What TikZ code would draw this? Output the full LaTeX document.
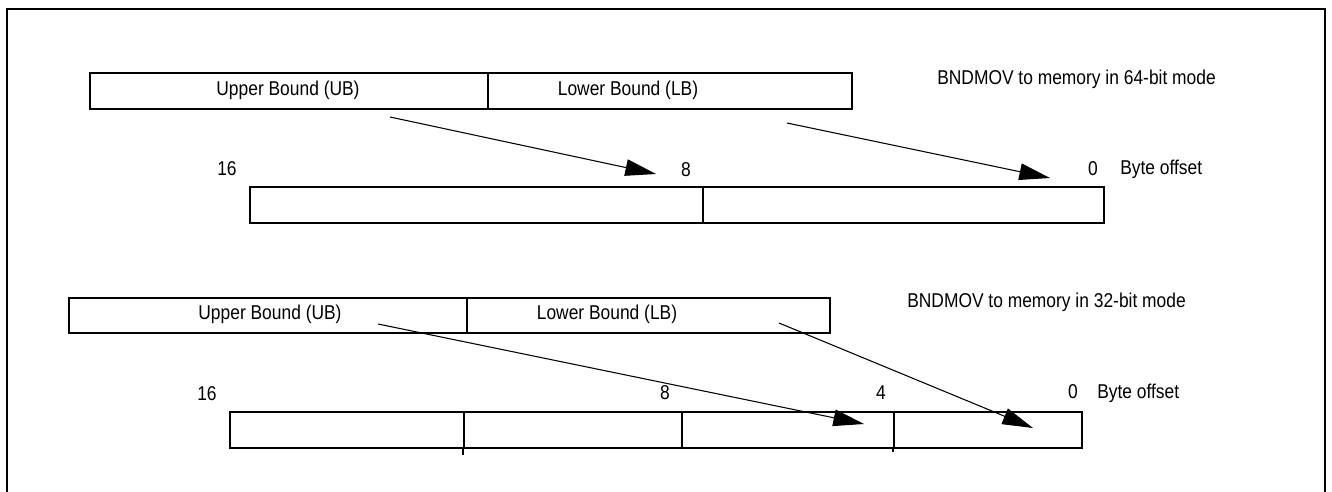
\documentclass[tikz,border=0pt]{standalone}
\usepackage{fontspec}
\setmainfont{Liberation Sans}
\usetikzlibrary{arrows.meta}
\newcommand{\lbltext}[1]{\scalebox{0.87}[1]{\fontsize{15}{17}\selectfont #1}}
\begin{document}
\begin{tikzpicture}[x=0.75pt,y=-0.75pt,
 cell/.style={draw, line width=1.8pt, minimum height=27pt, inner sep=0pt, anchor=north west},
 txt/.style={inner sep=0pt},
 mv/.style={line width=0.8pt, -{Triangle[length=23pt,width=12.5pt]}},
 frame/.style={line width=2pt}]
\clip (0,0) rectangle (1332,492);
\fill[white] (0,0) rectangle (1332,492);
\draw[frame] (7,500) -- (7,9) -- (1325,9) -- (1325,500);
% ---- 64-bit mode ----
\node[cell, minimum width=298.5pt] (ub1) at (89,72) {};
\node[cell, minimum width=273pt] (lb1) at (487,72) {};
\node[txt] (tub1) at (288,90) {\lbltext{Upper Bound (UB)}};
\node[txt] (tlb1) at (628,90) {\lbltext{Lower Bound (LB)}};
\node[txt, anchor=west] (title1) at (937,79) {\lbltext{BNDMOV to memory in 64-bit mode}};
\node[cell, minimum width=339.75pt] (ma1) at (249,186) {};
\node[cell, minimum width=300.75pt] (mb1) at (702,186) {};
\node[txt] (n16a) at (227,169) {\lbltext{16}};
\node[txt] (n8a) at (686,170) {\lbltext{8}};
\node[txt] (n0a) at (1093,169) {\lbltext{0}};
\node[txt, anchor=west] (bo1) at (1120,169) {\lbltext{Byte offset}};
\coordinate (s1) at (390,117); \coordinate (e1) at (656,174);
\coordinate (s2) at (787,123); \coordinate (e2) at (1050,178);
\draw[mv] (s1) -- (e1);
\draw[mv] (s2) -- (e2);
% ---- 32-bit mode ----
\node[cell, minimum width=298.5pt, minimum height=26.25pt] (ub2) at (68,297) {};
\node[cell, minimum width=272.25pt, minimum height=26.25pt] (lb2) at (466,297) {};
\node[txt] (tub2) at (270,314.5) {\lbltext{Upper Bound (UB)}};
\node[txt] (tlb2) at (607,314.5) {\lbltext{Lower Bound (LB)}};
\node[txt, anchor=west] (title2) at (907,302) {\lbltext{BNDMOV to memory in 32-bit mode}};
\node[cell, minimum width=175.5pt] (m1) at (229,411) {};
\node[cell, minimum width=163.5pt] (m2) at (463,411) {};
\node[cell, minimum width=159pt] (m3) at (681,411) {};
\node[cell, minimum width=141pt] (m4) at (893,411) {};
\draw[line width=1pt] (m2.south west) -- ++(0,6);
\draw[line width=1pt] (m4.south west) -- ++(0,3);
\node[txt] (n16b) at (207,394) {\lbltext{16}};
\node[txt] (n8b) at (665,393) {\lbltext{8}};
\node[txt] (n4b) at (881,393) {\lbltext{4}};
\node[txt] (n0b) at (1073,392) {\lbltext{0}};
\node[txt, anchor=west] (bo2) at (1097,393) {\lbltext{Byte offset}};
\coordinate (s3) at (378,324); \coordinate (e3) at (864,424);
\coordinate (s4) at (779,323); \coordinate (e4) at (1033,428);
\draw[mv] (s3) -- (e3);
\draw[mv] (s4) -- (e4);
\end{tikzpicture}
\end{document}
